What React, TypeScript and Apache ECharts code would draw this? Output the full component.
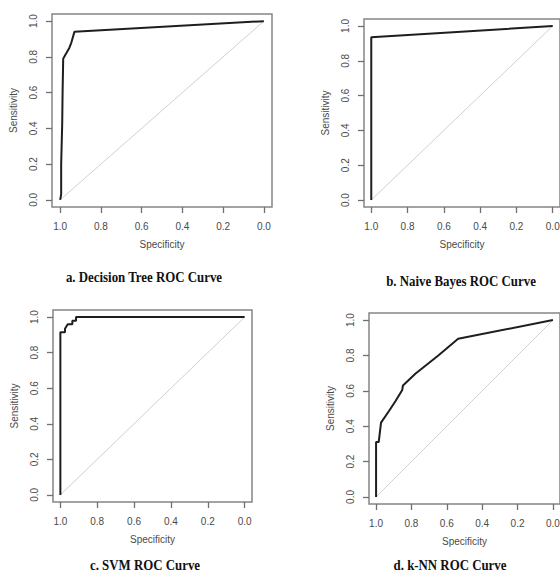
import React, { useEffect, useRef } from "react";
import * as echarts from "echarts";

// ---- Data ----
const tickValues = [0, 0.2, 0.4, 0.6, 0.8, 1.0];

const dtSpecificity = [1.0, 0.995, 0.995, 0.99, 0.988, 0.985, 0.975, 0.955, 0.945, 0.93, 0.0];
const dtSensitivity = [0.0, 0.03, 0.2, 0.42, 0.6, 0.79, 0.81, 0.85, 0.88, 0.94, 1.0];

const nbSpecificity = [1.0, 1.0, 0.0];
const nbSensitivity = [0.0, 0.935, 1.0];

const svmSpecificity = [1.0, 1.0, 0.975, 0.975, 0.96, 0.96, 0.935, 0.935, 0.915, 0.915, 0.0];
const svmSensitivity = [0.0, 0.915, 0.915, 0.935, 0.96, 0.96, 0.96, 0.98, 0.98, 1.0, 1.0];

const knnSpecificity = [1.0, 1.0, 0.985, 0.972, 0.926, 0.889, 0.852, 0.848, 0.778, 0.648, 0.536, 0.0];
const knnSensitivity = [0.0, 0.31, 0.31, 0.42, 0.487, 0.544, 0.605, 0.63, 0.696, 0.8, 0.894, 1.0];

const captions = [
  "a. Decision Tree ROC Curve",
  "b. Naive Bayes ROC Curve",
  "c. SVM ROC Curve",
  "d. k-NN ROC Curve",
];

const panels = [
  { spec: dtSpecificity, sens: dtSensitivity },
  { spec: nbSpecificity, sens: nbSensitivity },
  { spec: svmSpecificity, sens: svmSensitivity },
  { spec: knnSpecificity, sens: knnSensitivity },
];

// ---- Layout ----
const grids = [
  { left: 52, top: 14, width: 220, height: 193 },
  { left: 364, top: 19, width: 196, height: 188 },
  { left: 53, top: 310, width: 199, height: 192 },
  { left: 369, top: 313, width: 191, height: 191 },
];
const captionPos = [
  { x: 144, y: 277 },
  { x: 461, y: 281 },
  { x: 145, y: 565 },
  { x: 450, y: 565 },
];

const TEXT = "#4a4a4a";
const BOX = "#858585";
const TICK = "#707070";
const SANS = "'Liberation Sans', Arial, sans-serif";

export default function App() {
  const ref = useRef<HTMLDivElement>(null);
  useEffect(() => {
    if (!ref.current) return;
    const chart = echarts.init(ref.current, undefined, { renderer: "svg" });

    const xAxes = grids.map((_, i) => ({
      type: "value",
      gridIndex: i,
      inverse: true,
      min: -0.04,
      max: 1.04,
      splitLine: { show: false },
      axisLine: { show: false, onZero: false },
      axisTick: {
        show: true,
        length: 6,
        customValues: tickValues,
        lineStyle: { color: TICK, width: 1.3 },
      },
      axisLabel: {
        customValues: tickValues,
        formatter: (v: number) => v.toFixed(1),
        color: TEXT,
        fontSize: 10,
        fontFamily: SANS,
        margin: 14,
      },
      name: "Specificity",
      nameLocation: "middle",
      nameGap: 32,
      nameTextStyle: { color: TEXT, fontSize: 10, fontFamily: SANS },
    }));

    const yAxes = grids.map((_, i) => ({
      type: "value",
      gridIndex: i,
      min: -0.04,
      max: 1.04,
      splitLine: { show: false },
      axisLine: { show: false, onZero: false },
      axisTick: {
        show: true,
        length: 6,
        customValues: tickValues,
        lineStyle: { color: TICK, width: 1.3 },
      },
      axisLabel: {
        customValues: tickValues,
        formatter: (v: number) => v.toFixed(1),
        rotate: 90,
        color: TEXT,
        fontSize: 10,
        fontFamily: SANS,
        margin: 14,
      },
      name: "Sensitivity",
      nameLocation: "middle",
      nameGap: 34,
      nameRotate: 90,
      nameTextStyle: { color: TEXT, fontSize: 10, fontFamily: SANS },
    }));

    const series: any[] = [];
    panels.forEach((p, i) => {
      series.push({
        type: "line",
        xAxisIndex: i,
        yAxisIndex: i,
        data: [
          [1, 0],
          [0, 1],
        ],
        symbol: "none",
        silent: true,
        lineStyle: { color: "#d0d0d0", width: 1 },
      });
      series.push({
        type: "line",
        xAxisIndex: i,
        yAxisIndex: i,
        data: p.spec.map((s, k) => [s, p.sens[k]]),
        symbol: "none",
        silent: true,
        lineStyle: { color: "#1e1e1e", width: 2 },
      });
    });

    chart.setOption({
      animation: false,
      backgroundColor: "#fff",
      grid: grids.map((g) => ({
        ...g,
        show: true,
        borderColor: BOX,
        borderWidth: 1.5,
        backgroundColor: "transparent",
        containLabel: false,
        outerBoundsMode: "none",
      })),
      xAxis: xAxes,
      yAxis: yAxes,
      series,
      graphic: captions.map((c, i) => ({
        type: "text",
        x: captionPos[i].x,
        y: captionPos[i].y,
        scaleX: 0.92,
        style: {
          text: c,
          align: "center",
          verticalAlign: "middle",
          fill: "#111",
          font: "bold 14px 'Liberation Serif', 'Times New Roman', serif",
        },
      })),
    });
    return () => chart.dispose();
  }, []);

  return (
    <div
      ref={ref}
      style={{
        position: "fixed",
        left: 0,
        top: 0,
        width: 560,
        height: 575,
        overflow: "hidden",
        background: "#fff",
      }}
    />
  );
}
